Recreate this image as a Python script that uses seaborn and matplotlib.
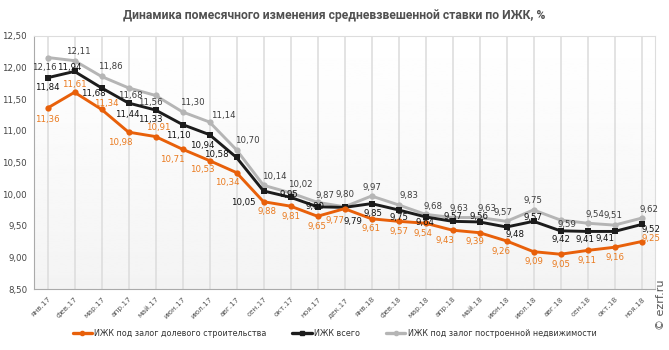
import numpy as np
import pandas as pd
import matplotlib
matplotlib.use("Agg")
import matplotlib.pyplot as plt
from matplotlib.lines import Line2D
import seaborn as sns

months = ["янв.17", "фев.17", "мар.17", "апр.17", "май.17", "июн.17", "июл.17", "авг.17",
          "сен.17", "окт.17", "ноя.17", "дек.17", "янв.18", "фев.18", "мар.18", "апр.18",
          "май.18", "июн.18", "июл.18", "авг.18", "сен.18", "окт.18", "ноя.18"]

dolevoe = [11.36, 11.61, 11.34, 10.98, 10.91, 10.71, 10.53, 10.34, 9.88, 9.81, 9.65, 9.77,
           9.61, 9.57, 9.54, 9.43, 9.39, 9.26, 9.09, 9.05, 9.11, 9.16, 9.25]
vsego = [11.84, 11.94, 11.68, 11.44, 11.33, 11.10, 10.94, 10.58, 10.05, 9.95, 9.80, 9.79,
         9.85, 9.75, 9.64, 9.57, 9.56, 9.48, 9.57, 9.42, 9.41, 9.41, 9.52]
postroennoe = [12.16, 12.11, 11.86, 11.68, 11.56, 11.30, 11.14, 10.70, 10.14, 10.02, 9.87, 9.80,
               9.97, 9.83, 9.68, 9.63, 9.63, 9.57, 9.75, 9.59, 9.54, 9.51, 9.62]

names = ["ИЖК под залог долевого строительства", "ИЖК всего",
         "ИЖК под залог построенной недвижимости"]

c_or = "#e8600a"
c_bl = "#1c1c1c"
c_gr = "#b5b5b5"

# label offsets in pixels (dx, dy up)
off_gr = [(-3, -10), (4, 9), (9, 10), (2, -8), (-5, -7), (10, 9), (14, 7), (11, 9), (11, 9),
          (10, 8), (8, 7), (0, 12), (0, 9), (10, 9), (7, 8), (6, 9), (7, 9), (-4, 9), (0, 9),
          (6, -4), (8, 9), (-2, 10), (7, 9)]
off_bl = [(0, -10), (-5, 4), (-8, -6), (-1, -11), (-5, -9), (-4, -11), (-7, -11), (-20, 3),
          (-20, -12), (-2, 3), (-2, 0), (8, -14), (2, -10), (0, -8), (0, -6), (0, 5), (0, 5),
          (9, -7), (0, 4), (0, -9), (-3, -8), (-9, -7), (9, -5)]
off_or = [(0, -11), (0, 8), (5, 6), (-8, -10), (3, 9), (-10, -10), (-7, -9), (-9, -10),
          (4, -10), (0, -10), (0, -10), (-9, -12), (0, -10), (0, -10), (-3, -10), (-8, -10),
          (-5, -9), (-5, -11), (0, -10), (0, -10), (0, -10), (0, -10), (9, 3)]

sns.set_style("white")
plt.rcParams['font.family'] = ['DejaVu Sans']

fig = plt.figure(figsize=(6.69, 3.5), dpi=100)
ax = fig.add_axes([34 / 669, 1 - 289 / 350, (655 - 34) / 669, (289 - 36) / 350])

x = np.arange(len(months))
df = pd.DataFrame({"x": np.tile(x, 3),
                   "val": dolevoe + vsego + postroennoe,
                   "series": np.repeat(names, len(months))})

# light gradient background
grad = np.linspace(1.0, 0.955, 100).reshape(-1, 1)
ax.imshow(grad, extent=[0, 1, 0, 1], transform=ax.transAxes, cmap="gray",
          vmin=0, vmax=1, aspect="auto", zorder=0)

for xi in x:
    ax.axvline(xi, color="#dedede", lw=1.2, zorder=1)

sns.lineplot(data=df, x="x", y="val", hue="series", hue_order=names[::-1],
             palette={names[0]: c_or, names[1]: c_bl, names[2]: c_gr},
             style="series", markers={names[0]: "o", names[1]: "s", names[2]: "o"},
             dashes=False, markersize=4.5, markeredgewidth=0, linewidth=2.1,
             ax=ax, legend=False, zorder=3)


def lab(vals, color, offs):
    for i, v in enumerate(vals):
        ax.annotate(f"{v:.2f}".replace(".", ","), (i, v), xytext=offs[i],
                    textcoords="offset pixels", ha="center", va="center",
                    fontsize=6.2, color=color, zorder=5)


lab(postroennoe, "#3d3d3d", off_gr)
lab(vsego, "#111111", off_bl)
lab(dolevoe, "#ea7a1e", off_or)

ax.set_xlim(-0.5, len(months) - 0.5)
ax.set_ylim(8.5, 12.5)
yt = np.arange(8.5, 12.51, 0.5)
ax.set_yticks(yt)
ax.set_yticklabels([f"{t:.2f}".replace(".", ",") for t in yt], fontsize=6.2, color="#444444")
ax.set_xticks(x)
ax.set_xticklabels(months, rotation=45, ha="right", rotation_mode="anchor",
                   fontsize=5.3, color="#555555")
ax.set_xlabel("")
ax.set_ylabel("")
ax.tick_params(axis="both", length=3, color="#aaaaaa", pad=2)
for side in ["left", "bottom"]:
    ax.spines[side].set_color("#aaaaaa")
for side in ["top", "right"]:
    ax.spines[side].set_color("#dddddd")

fig.text(0.5, 1 - 15 / 350, "Динамика помесячного изменения средневзвешенной ставки по ИЖК, %",
         ha="center", va="center", fontsize=8.7, fontweight="bold", color="#505050",
         family=["Roboto", "DejaVu Sans"])

handles = [Line2D([], [], color=c_or, lw=2.4, marker="o", markersize=3),
           Line2D([], [], color=c_bl, lw=2.4, marker="s", markersize=3),
           Line2D([], [], color=c_gr, lw=2.4, marker="o", markersize=3)]
fig.legend(handles, names, loc="center", bbox_to_anchor=(0.5, 1 - 333 / 350), ncol=3,
           frameon=False, fontsize=5.8, handlelength=2.4, handletextpad=0.3,
           columnspacing=3.2, labelcolor="#333333")

fig.text(0.988, 1 - 305 / 350, "© ezrf.ru", rotation=90, ha="center", va="center",
         fontsize=8, color="#555555")

fig.savefig("out.png", dpi=100)
